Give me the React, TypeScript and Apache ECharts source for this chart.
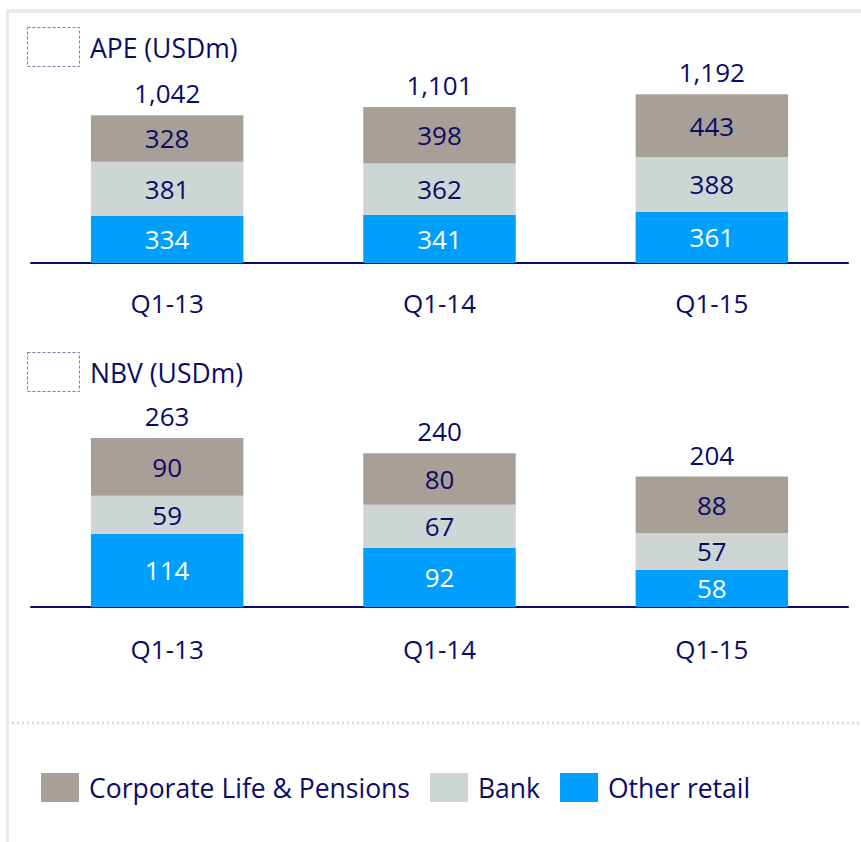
import React, { useEffect, useRef } from "react";
import * as echarts from "echarts";

const categories = ["Q1-13", "Q1-14", "Q1-15"];
const seriesNames = ["Corporate Life & Pensions", "Bank", "Other retail"];
const apeCorporate = [328, 398, 443];
const apeBank = [381, 362, 388];
const apeOther = [334, 341, 361];
const apeTotal = [1042, 1101, 1192];
const nbvCorporate = [90, 80, 88];
const nbvBank = [59, 67, 57];
const nbvOther = [114, 92, 58];
const nbvTotal = [263, 240, 204];
const panelTitles = ["APE (USDm)", "NBV (USDm)"];

const NAVY = "#0b0b66";
const FONT = "'Open Sans', 'Noto Sans', sans-serif";
const COLORS = ["#a89f96", "#cdd6d5", "#009ffd"];

export default function App() {
  const ref = useRef<HTMLDivElement>(null);
  useEffect(() => {
    document.body.style.margin = "0";
    const chart = echarts.init(ref.current!, undefined, { renderer: "svg" });

    const makeSeries = (gi: number, other: number[], bank: number[], corp: number[], total: number[]) => {
      const stack = "s" + gi;
      const base = {
        type: "bar" as const,
        stack,
        xAxisIndex: gi,
        yAxisIndex: gi,
        barWidth: "56%",
      };
      const lbl = (color: string) => ({
        show: true,
        position: "inside" as const,
        color,
        fontSize: 26,
        fontFamily: FONT,
      });
      return [
        { ...base, name: seriesNames[2], data: other, itemStyle: { color: COLORS[2] }, label: lbl("#ffffff") },
        { ...base, name: seriesNames[1], data: bank, itemStyle: { color: COLORS[1] }, label: lbl(NAVY) },
        { ...base, name: seriesNames[0], data: corp, itemStyle: { color: COLORS[0] }, label: lbl(NAVY) },
        {
          ...base,
          name: "total" + gi,
          data: total.map(() => 0),
          itemStyle: { color: "transparent" },
          label: {
            show: true,
            position: "top" as const,
            distance: 9,
            color: NAVY,
            fontSize: 26,
            fontFamily: FONT,
            formatter: (p: any) => total[p.dataIndex].toLocaleString("en-US"),
          },
        },
      ];
    };

    const xAxisCommon = (gi: number, margin: number) => ({
      type: "category" as const,
      gridIndex: gi,
      data: categories,
      axisLine: { lineStyle: { color: NAVY, width: 2 } },
      axisTick: { show: false },
      axisLabel: { color: NAVY, fontSize: 26, fontFamily: FONT, margin },
    });
    const yAxisCommon = (gi: number, max: number) => ({
      type: "value" as const,
      gridIndex: gi,
      min: 0,
      max,
      show: false,
      splitLine: { show: false },
    });

    const boxes = [
      { y: 27, ty: 48 },
      { y: 352, ty: 373 },
    ];

    chart.setOption({
      animation: false,
      backgroundColor: "#ffffff",
      grid: [
        { left: 31, right: 13, top: 93, height: 170 },
        { left: 31, right: 13, top: 427, height: 180 },
      ],
      xAxis: [xAxisCommon(0, 27), xAxisCommon(1, 29)],
      yAxis: [yAxisCommon(0, 1200), yAxisCommon(1, 280)],
      legend: {
        data: seriesNames,
        left: 41,
        top: 773,
        padding: 0,
        itemWidth: 38,
        itemHeight: 29,
        itemGap: 20,
        icon: "rect",
        selectedMode: false,
        textStyle: { color: NAVY, fontSize: 26.5, fontFamily: FONT, padding: [0, 0, 0, 5] },
      },
      graphic: [
        { type: "rect", shape: { x: 6, y: 9, width: 855, height: 4 }, style: { fill: "#e6ebe9" }, silent: true },
        { type: "rect", shape: { x: 6, y: 9, width: 3, height: 833 }, style: { fill: "#e6ebe9" }, silent: true },
        {
          type: "line",
          shape: { x1: 12, y1: 723, x2: 861, y2: 723 },
          style: { stroke: "#dcdcdc", lineWidth: 3, lineDash: [2, 3] },
          silent: true,
        },
        ...boxes.flatMap((b, i) => [
          {
            type: "rect",
            shape: { x: 27.5, y: b.y + 0.5, width: 52, height: 39 },
            style: { fill: "none", stroke: "#7b7bc4", lineWidth: 1, lineDash: [3, 2] },
            silent: true,
          },
          {
            type: "text",
            x: 90,
            y: b.ty,
            style: {
              text: panelTitles[i],
              fill: NAVY,
              font: `26.5px ${FONT}`,
              verticalAlign: "middle",
              align: "left",
            },
            silent: true,
          },
        ]),
      ],
      series: [
        ...makeSeries(0, apeOther, apeBank, apeCorporate, apeTotal),
        ...makeSeries(1, nbvOther, nbvBank, nbvCorporate, nbvTotal),
      ],
    });
    return () => chart.dispose();
  }, []);
  return <div ref={ref} style={{ width: 861, height: 842 }} />;
}
